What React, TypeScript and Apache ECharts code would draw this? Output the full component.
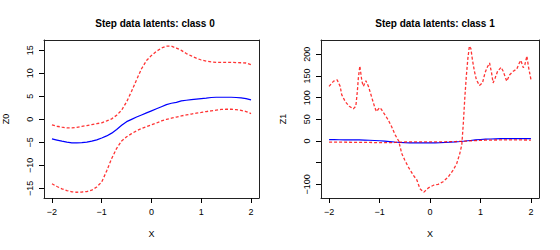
import React, { useEffect, useRef } from "react";
import * as echarts from "echarts";

// shared x grid
const xs = [-2, -1.9, -1.8, -1.7, -1.6, -1.5, -1.4, -1.3, -1.2, -1.1, -1, -0.9, -0.8, -0.7, -0.6, -0.5, -0.4, -0.3, -0.2, -0.1, 0, 0.1, 0.2, 0.3, 0.4, 0.5, 0.6, 0.7, 0.8, 0.9, 1, 1.1, 1.2, 1.3, 1.4, 1.5, 1.6, 1.7, 1.8, 1.9, 2];

// class 0
const z0Upper = [-1.2, -1.5, -1.7, -1.85, -1.85, -1.75, -1.55, -1.35, -1.15, -0.95, -0.75, -0.35, 0.1, 0.9, 2.0, 3.8, 6.1, 8.6, 11.0, 12.8, 13.9, 14.8, 15.5, 15.9, 15.9, 15.5, 15.0, 14.3, 13.8, 13.3, 12.9, 12.65, 12.5, 12.4, 12.4, 12.4, 12.4, 12.35, 12.3, 12.25, 11.9];
const z0Mean = [-4.25, -4.5, -4.75, -4.95, -5.1, -5.1, -5.05, -4.95, -4.75, -4.45, -4.05, -3.6, -3.0, -2.2, -1.3, -0.5, 0.0, 0.5, 0.95, 1.4, 1.85, 2.3, 2.75, 3.2, 3.5, 3.7, 4.0, 4.15, 4.3, 4.4, 4.5, 4.6, 4.75, 4.8, 4.8, 4.8, 4.8, 4.75, 4.65, 4.5, 4.25];
const z0Lower = [-14.0, -14.6, -15.1, -15.5, -15.75, -15.85, -15.8, -15.7, -15.4, -14.7, -13.6, -11.2, -8.5, -6.3, -4.7, -3.8, -3.1, -2.5, -2.0, -1.6, -1.2, -0.8, -0.35, 0.0, 0.25, 0.5, 0.75, 0.95, 1.15, 1.35, 1.5, 1.7, 1.85, 2.0, 2.15, 2.2, 2.2, 2.1, 1.95, 1.7, 1.25];

// class 1
const z1Mean = [3.0, 3.0, 2.9, 2.8, 2.7, 2.6, 2.4, 2.1, 1.7, 1.2, 0.6, -0.3, -1.3, -2.3, -3.2, -3.8, -4.2, -4.4, -4.5, -4.5, -4.4, -4.2, -3.9, -3.4, -2.8, -2.0, -1.1, 0.0, 1.2, 2.4, 3.4, 4.1, 4.6, 5.0, 5.3, 5.5, 5.6, 5.7, 5.7, 5.6, 5.5];
const z1Lower = [-2.5, -2.6, -2.7, -2.8, -2.9, -3.0, -3.1, -3.2, -3.4, -3.6, -3.8, -3.9, -3.8, -3.4, -2.8, -2.3, -2.1, -2.0, -2.0, -2.0, -2.0, -2.0, -1.9, -1.8, -1.6, -1.3, -0.9, -0.3, 0.4, 1.0, 1.5, 1.9, 2.1, 2.3, 2.4, 2.5, 2.5, 2.5, 2.4, 2.3, 2.2];
const x1Upper = [-2.0, -1.95, -1.91, -1.84, -1.78, -1.75, -1.68, -1.6, -1.52, -1.47, -1.44, -1.42, -1.39, -1.35, -1.32, -1.27, -1.22, -1.15, -1.09, -1.06, -1.0, -0.97, -0.89, -0.83, -0.76, -0.69, -0.62, -0.56, -0.5, -0.43, -0.33, -0.26, -0.2, -0.12, -0.03, 0.07, 0.16, 0.26, 0.36, 0.46, 0.53, 0.59, 0.63, 0.66, 0.69, 0.72, 0.75, 0.78, 0.81, 0.84, 0.88, 0.92, 0.98, 1.04, 1.09, 1.13, 1.18, 1.22, 1.25, 1.29, 1.34, 1.41, 1.45, 1.52, 1.58, 1.65, 1.72, 1.77, 1.8, 1.85, 1.88, 1.92, 1.95, 2.0];
const z1Upper = [126, 133, 138, 141, 126, 107, 91, 80, 74, 80, 114, 145, 173, 138, 126, 139, 126, 99, 76, 68, 77, 74, 60, 49, 33, 14, 0, -29, -44, -60, -79, -90, -110, -118, -108, -102, -100, -94, -83, -67, -52, -29, -9, 40, 100, 150, 190, 219, 213, 188, 161, 141, 128, 134, 157, 169, 180, 157, 134, 145, 161, 170, 161, 138, 153, 161, 166, 180, 186, 169, 176, 196, 172, 142];

const titles = ["Step data latents: class 0", "Step data latents: class 1"];
const yNames = ["Z0", "Z1"];
const xTicks = [-2, -1, 0, 1, 2];
const y0Ticks = [-15, -10, -5, 0, 5, 10, 15];
const y1Ticks = [-100, -50, 0, 50, 100, 150, 200];
const y1Labels = [-100, 0, 50, 100, 150, 200];

const FONT = "'Liberation Sans', Arial, Helvetica, sans-serif";
const X_RANGE = [-2.16, 2.16];
const Y0_RANGE = [-17.1, 17.25];
const Y1_RANGE = [-131.5, 233];

const pair = (x: number[], y: number[]) => x.map((v, i) => [v, y[i]]);

export default function App() {
  const ref = useRef<HTMLDivElement>(null);
  useEffect(() => {
    if (!ref.current) return;
    const chart = echarts.init(ref.current, null, { renderer: "svg" });
    const fmt = (v: number) => (v < 0 ? "\u2212" + Math.abs(v) : String(v));
    const boxLine = { show: true, onZero: false, lineStyle: { color: "#222", width: 1 } };
    const xAxisMain = (gi: number) => ({
      type: "value",
      gridIndex: gi,
      position: "bottom",
      min: X_RANGE[0],
      max: X_RANGE[1],
      name: "X",
      nameLocation: "middle",
      nameGap: 31,
      nameTextStyle: { fontFamily: FONT, fontSize: 9, color: "#000" },
      axisLine: boxLine,
      splitLine: { show: false },
      axisTick: { show: true, length: 5, lineStyle: { color: "#000", width: 1 }, customValues: xTicks },
      axisLabel: { fontFamily: FONT, fontSize: 9, color: "#000", margin: 9, customValues: xTicks, formatter: fmt },
    });
    const xAxisTop = (gi: number) => ({
      type: "value",
      gridIndex: gi,
      position: "top",
      min: X_RANGE[0],
      max: X_RANGE[1],
      axisLine: boxLine,
      axisTick: { show: false },
      axisLabel: { show: false },
      splitLine: { show: false },
    });
    const yAxisMain = (gi: number, range: number[], ticks: number[], labels: number[]) => ({
      type: "value",
      gridIndex: gi,
      position: "left",
      min: range[0],
      max: range[1],
      name: yNames[gi],
      nameLocation: "middle",
      nameGap: 34,
      nameRotate: 90,
      nameTextStyle: { fontFamily: FONT, fontSize: 9, color: "#000" },
      axisLine: boxLine,
      splitLine: { show: false },
      axisTick: { show: true, length: 5, lineStyle: { color: "#000", width: 1 }, customValues: ticks },
      axisLabel: { fontFamily: FONT, fontSize: 9, color: "#000", margin: 10, rotate: 90, customValues: labels, formatter: fmt },
    });
    const yAxisRight = (gi: number, range: number[]) => ({
      type: "value",
      gridIndex: gi,
      position: "right",
      min: range[0],
      max: range[1],
      axisLine: boxLine,
      axisTick: { show: false },
      axisLabel: { show: false },
      splitLine: { show: false },
    });
    const red = (gi: number, data: number[][]) => ({
      type: "line",
      xAxisIndex: gi,
      yAxisIndex: gi,
      data,
      showSymbol: false,
      symbol: "none",
      lineStyle: { color: "rgba(255,0,0,0.8)", width: 1.3, type: [3, 2] },
      z: 3,
    });
    const blue = (gi: number, data: number[][]) => ({
      type: "line",
      xAxisIndex: gi,
      yAxisIndex: gi,
      data,
      showSymbol: false,
      symbol: "none",
      lineStyle: { color: "#0000ff", width: 1.2 },
      z: 2,
    });
    chart.setOption({
      animation: false,
      backgroundColor: "#ffffff",
      title: [
        { text: titles[0], left: 150, top: 13, textAlign: "center", textStyle: { fontFamily: FONT, fontSize: 10, fontWeight: "bold", color: "#000" } },
        { text: titles[1], left: 430, top: 13, textAlign: "center", textStyle: { fontFamily: FONT, fontSize: 10, fontWeight: "bold", color: "#000" } },
      ],
      grid: [
        { left: 41, top: 40, width: 218, height: 158 },
        { left: 321, top: 40, width: 218, height: 158 },
      ],
      xAxis: [xAxisMain(0), xAxisMain(1), xAxisTop(0), xAxisTop(1)],
      yAxis: [
        yAxisMain(0, Y0_RANGE, y0Ticks, y0Ticks),
        yAxisMain(1, Y1_RANGE, y1Ticks, y1Labels),
        yAxisRight(0, Y0_RANGE),
        yAxisRight(1, Y1_RANGE),
      ],
      series: [
        blue(0, pair(xs, z0Mean)),
        red(0, pair(xs, z0Upper)),
        red(0, pair(xs, z0Lower)),
        blue(1, pair(xs, z1Mean)),
        red(1, pair(x1Upper, z1Upper)),
        red(1, pair(xs, z1Lower)),
      ],
    });
    return () => chart.dispose();
  }, []);
  return <div ref={ref} style={{ position: "fixed", left: 0, top: 0, width: 560, height: 250 }} />;
}
